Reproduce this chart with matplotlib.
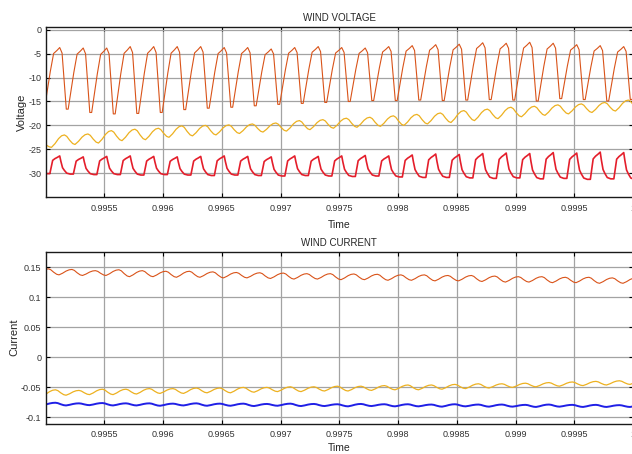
import numpy as np
import matplotlib
matplotlib.use("Agg")
import matplotlib.pyplot as plt

plt.rcParams["font.family"] = ["Liberation Sans", "DejaVu Sans"]
plt.rcParams["axes.unicode_minus"] = False

period = 0.0002  # ripple period, 5 cycles per 0.001 s on the grid

# one cycle of each trace: phase after the peak -> 0 (trough) .. 1 (peak)
saw_phase = [0.0, 0.10, 0.20, 0.28, 0.36, 0.48, 0.60, 0.74, 0.88]
saw_shape = [1.0, 0.91, 0.40, 0.0, 0.0, 0.30, 0.60, 0.90, 0.95]
saw_low = 4
pulse_phase = [0.0, 0.05, 0.12, 0.20, 0.30, 0.45, 0.58, 0.70, 0.80, 0.90]
pulse_shape = [1.0, 0.70, 0.35, 0.20, 0.05, 0.0, 0.0, 0.75, 0.85, 0.92]
pulse_low = 5
ripple_phase = [0.0, 0.10, 0.22, 0.35, 0.45, 0.60, 0.75, 0.88]
ripple_shape = [1.0, 0.85, 0.45, 0.10, 0.0, 0.30, 0.70, 0.93]
ripple_low = 4

# WIND VOLTAGE: time of the first (off-screen) peak, peak per cycle, trough per cycle
v_orange_t0 = 0.994921
v_orange_peaks = [-3.8, -3.7, -3.8, -3.8, -3.5, -3.5, -3.5, -3.5, -3.7, -3.7, -4.0, -3.7, -3.5, -3.7,
                  -3.8, -3.5, -3.3, -3.1, -3.0, -2.7, -2.8, -2.6, -2.8, -3.1, -3.3, -3.5, -3.5]
v_orange_troughs = [-16.2, -16.6, -17.3, -17.6, -17.5, -17.3, -16.7, -16.4, -16.2, -15.9, -15.6, -15.4, -15.2,
                    -15.0, -14.8, -14.8, -14.7, -14.8, -14.7, -14.6, -14.7, -14.9, -14.4, -14.6, -14.9, -14.6]

v_yellow_t0 = 0.994961
v_yellow_peaks = [-23.5, -22.0, -21.8, -21.1, -20.8, -20.6, -20.1, -20.0, -19.9, -19.7, -19.5, -19.0, -18.8, -18.5,
                  -18.3, -18.0, -17.7, -17.4, -16.9, -16.6, -16.2, -16.0, -15.7, -15.5, -15.2, -14.7, -14.5]
v_yellow_troughs = [-24.6, -24.0, -23.7, -23.2, -23.0, -22.5, -22.2, -22.0, -21.7, -21.4, -21.2, -20.9, -20.6,
                    -20.4, -20.2, -20.0, -19.7, -19.4, -19.0, -18.6, -18.2, -17.9, -17.6, -17.3, -17.0, -16.7]

v_red_t0 = 0.994921
v_red_peaks = [-26.5, -26.4, -26.6, -26.5, -26.4, -26.5, -26.6, -26.5, -26.4, -26.5, -26.6, -26.4, -26.5, -26.4,
               -26.3, -26.4, -26.2, -26.0, -26.1, -25.9, -25.8, -25.9, -25.7, -25.8, -25.6, -25.7, -25.6]
v_red_troughs = [-30.1, -30.2, -30.3, -30.3, -30.4, -30.3, -30.4, -30.5, -30.4, -30.5, -30.6, -30.5, -30.6,
                 -30.7, -30.6, -30.8, -30.9, -30.9, -31.0, -31.1, -31.0, -31.2, -31.1, -31.3, -31.2, -31.3]

# WIND CURRENT
i_orange_t0 = 0.994825
i_orange_peaks = [0.146, 0.147, 0.146, 0.144, 0.1455, 0.144, 0.143, 0.143, 0.142, 0.141, 0.1405, 0.140, 0.139, 0.139,
                  0.1385, 0.138, 0.137, 0.137, 0.136, 0.136, 0.135, 0.134, 0.134, 0.133, 0.133, 0.132, 0.132]
i_orange_troughs = [0.137, 0.137, 0.136, 0.136, 0.134, 0.134, 0.133, 0.133, 0.132, 0.132, 0.131, 0.130, 0.130,
                    0.129, 0.129, 0.128, 0.128, 0.127, 0.127, 0.126, 0.125, 0.125, 0.124, 0.124, 0.123, 0.123]

i_yellow_t0 = 0.994885
i_yellow_peaks = [-0.055, -0.054, -0.055, -0.053, -0.053, -0.052, -0.052, -0.051, -0.051, -0.050, -0.050, -0.049,
                  -0.049, -0.048, -0.048, -0.047, -0.046, -0.046, -0.045, -0.044, -0.044, -0.043, -0.042, -0.041,
                  -0.040, -0.039, -0.038]
i_yellow_troughs = [-0.064, -0.063, -0.062, -0.062, -0.061, -0.060, -0.060, -0.059, -0.059, -0.058, -0.057, -0.057,
                    -0.056, -0.056, -0.055, -0.054, -0.054, -0.053, -0.052, -0.051, -0.050, -0.049, -0.048,
                    -0.047, -0.046, -0.045]

i_blue_t0 = 0.994885
i_blue_peaks = [-0.076, -0.0755, -0.0765, -0.076, -0.0765, -0.0765, -0.077, -0.0765, -0.077, -0.077, -0.0775,
                -0.077, -0.0775, -0.078, -0.0775, -0.078, -0.078, -0.0785, -0.078, -0.0785, -0.0785, -0.079,
                -0.0785, -0.079, -0.079, -0.0795, -0.079]
i_blue_troughs = [-0.0795, -0.080, -0.0795, -0.080, -0.080, -0.0805, -0.080, -0.0805, -0.0805, -0.081, -0.0805,
                  -0.081, -0.081, -0.0815, -0.081, -0.0815, -0.0815, -0.082, -0.0815, -0.082, -0.082, -0.0825,
                  -0.082, -0.0825, -0.0825, -0.0825]

xticks = [0.9955, 0.996, 0.9965, 0.997, 0.9975, 0.998, 0.9985, 0.999, 0.9995, 1.0]
xticklabels = ["0.9955", "0.996", "0.9965", "0.997", "0.9975", "0.998", "0.9985", "0.999", "0.9995", "1"]
v_yticks = [-30, -25, -20, -15, -10, -5, 0]
i_yticks = [-0.1, -0.05, 0, 0.05, 0.1, 0.15]
i_yticklabels = ["-0.1", "-0.05", "0", "0.05", "0.1", "0.15"]


def wave(t0, peaks, troughs, phase, shape, low):
    # lay the read cycle shape between each peak and trough
    t, y = [], []
    for i in range(len(troughs)):
        for j in range(len(phase)):
            top = peaks[i] if j <= low else peaks[i + 1]
            t.append(t0 + (i + phase[j]) * period)
            y.append(troughs[i] + shape[j] * (top - troughs[i]))
    t.append(t0 + len(troughs) * period)
    y.append(peaks[-1])
    return np.array(t), np.array(y)


def style(ax, title, ylabel, xpad):
    ax.set_xlim(0.995, 1.0)
    ax.set_xticks(xticks)
    ax.set_xticklabels(xticklabels)
    ax.grid(True, color="#a3a3a3", lw=0.9)
    ax.set_axisbelow(True)
    ax.tick_params(direction="in", length=3, width=0.8, top=True, right=True,
                   labelsize=6.5, labelcolor="#333333")
    ax.tick_params(axis="y", pad=3)
    ax.tick_params(axis="x", pad=5)
    for s in ax.spines.values():
        s.set_linewidth(1.0)
        s.set_color("#1a1a1a")
    ax.set_title(title, fontsize=7, color="#262626", pad=4)
    ax.set_xlabel("Time", fontsize=7.5, color="#262626", labelpad=xpad)
    ax.set_ylabel(ylabel, fontsize=8, color="#262626", labelpad=1)


fig = plt.figure(figsize=(6.32, 4.54), dpi=100)
ax1 = fig.add_axes([45.5 / 632, 1 - 197 / 454, 587.5 / 632, 170 / 454])
ax2 = fig.add_axes([45.5 / 632, 1 - 423.5 / 454, 587.5 / 632, 171.5 / 454])

t, y = wave(v_orange_t0, v_orange_peaks, v_orange_troughs, saw_phase, saw_shape, saw_low)
ax1.plot(t, y, color="#D95319", lw=0.8)
t, y = wave(v_yellow_t0, v_yellow_peaks, v_yellow_troughs, ripple_phase, ripple_shape, ripple_low)
ax1.plot(t, y, color="#EDB120", lw=0.9)
t, y = wave(v_red_t0, v_red_peaks, v_red_troughs, pulse_phase, pulse_shape, pulse_low)
ax1.plot(t, y, color="#E41E2B", lw=1.2)
ax1.set_ylim(-35, 0.6)
ax1.set_yticks(v_yticks)
style(ax1, "WIND VOLTAGE", "Voltage", 5)

t, y = wave(i_orange_t0, i_orange_peaks, i_orange_troughs, ripple_phase, ripple_shape, ripple_low)
ax2.plot(t, y, color="#D95319", lw=0.8)
t, y = wave(i_yellow_t0, i_yellow_peaks, i_yellow_troughs, ripple_phase, ripple_shape, ripple_low)
ax2.plot(t, y, color="#EDB120", lw=0.9)
t, y = wave(i_blue_t0, i_blue_peaks, i_blue_troughs, ripple_phase, ripple_shape, ripple_low)
ax2.plot(t, y, color="#1F1FE6", lw=1.4)
ax2.set_ylim(-0.11, 0.175)
ax2.set_yticks(i_yticks)
ax2.set_yticklabels(i_yticklabels)
style(ax2, "WIND CURRENT", "Current", 2.5)

fig.savefig("out.png", dpi=100)
